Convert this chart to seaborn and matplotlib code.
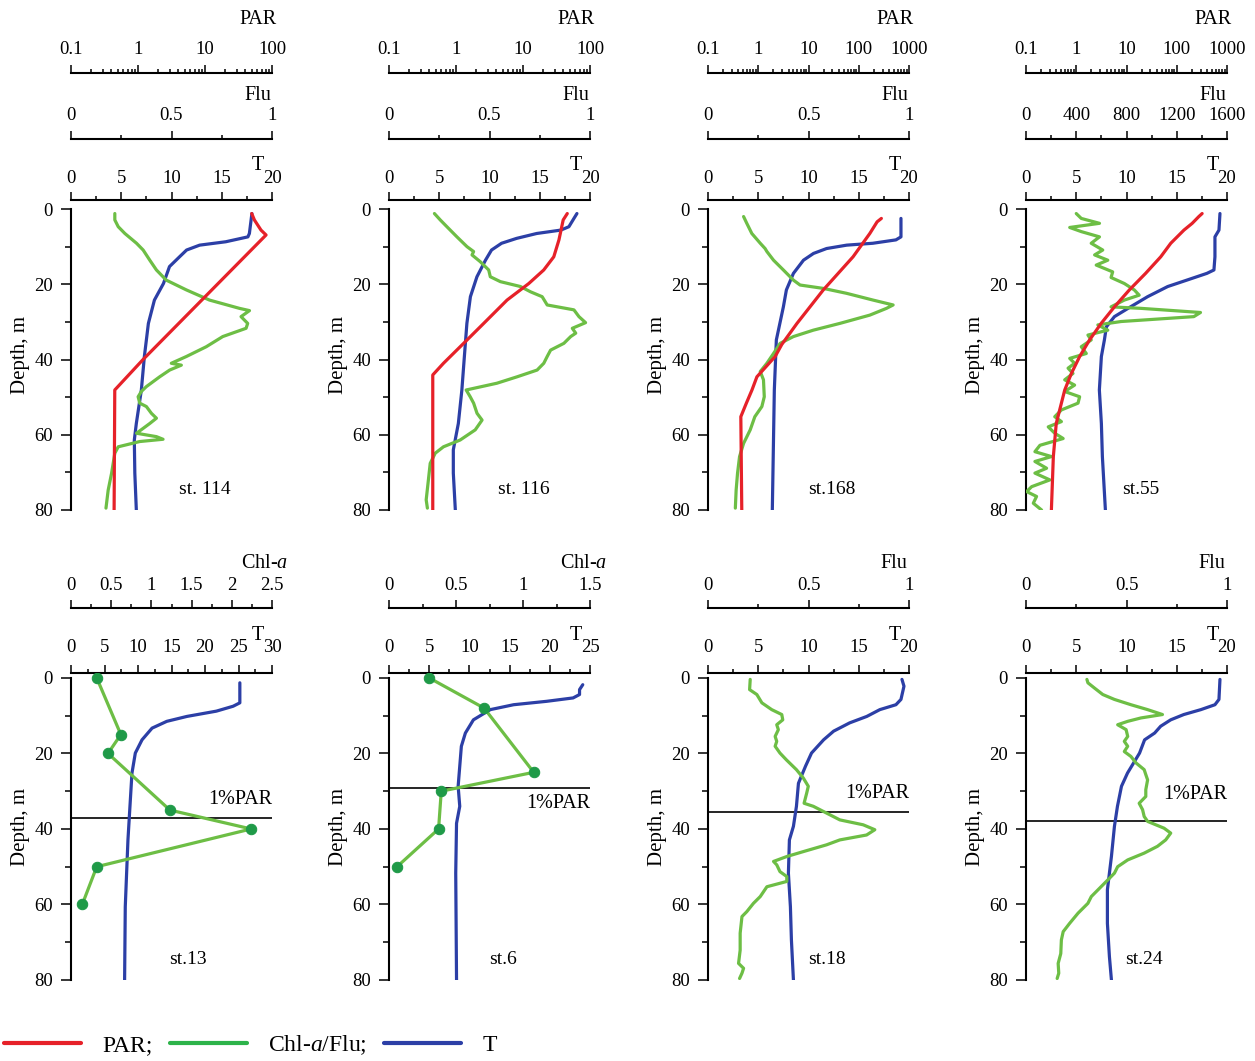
import numpy as np
import matplotlib
matplotlib.use("Agg")
import matplotlib.pyplot as plt
import seaborn as sns
import matplotlib.transforms as mtrans
from matplotlib.ticker import MultipleLocator, LogLocator, NullFormatter, FixedLocator, FixedFormatter
from matplotlib.lines import Line2D

# ---------------- data ----------------
# st. 114
st114_T_depth = [1.2, 6.5, 7.4, 8.7, 9.6, 10.9, 12.7, 15.3, 19.8, 24.2, 30.4, 39.2, 48.1, 57.0, 61.4, 70.2, 80.0]
st114_T = [18.0, 17.75, 17.6, 15.4, 12.8, 11.5, 10.8, 9.8, 9.2, 8.3, 7.7, 7.3, 7.0, 6.5, 6.3, 6.35, 6.5]
st114_PAR_depth = [1.2, 2.9, 5.6, 6.9, 40.0, 48.1, 80.0]
st114_PAR = [49.8, 54.6, 68.5, 81.5, 1.19, 0.45, 0.44]
st114_Flu_depth = [1.2, 2.9, 4.7, 6.5, 9.1, 10.9, 13.6, 16.2, 18.9, 21.5, 24.2, 26.4, 27.0, 28.6, 30.4, 31.7,
                   33.9, 36.6, 39.2, 41.0, 41.5, 42.8, 44.6, 47.2, 48.5, 49.9, 51.6, 52.5, 54.3, 55.6, 57.0,
                   58.3, 59.6, 60.5, 61.2, 61.8, 63.2, 64.9, 70.2, 74.7, 79.5]
st114_Flu = [0.218, 0.218, 0.235, 0.268, 0.326, 0.359, 0.392, 0.425, 0.474, 0.574, 0.689, 0.838, 0.888, 0.846,
             0.879, 0.871, 0.755, 0.673, 0.574, 0.499, 0.549, 0.491, 0.441, 0.375, 0.350, 0.334, 0.342, 0.375,
             0.400, 0.425, 0.392, 0.359, 0.326, 0.425, 0.458, 0.342, 0.235, 0.218, 0.202, 0.185, 0.174]

# st. 116
st116_T_depth = [1.2, 2.5, 4.7, 5.6, 6.5, 7.8, 9.1, 10.9, 13.6, 18.0, 23.3, 30.4, 39.2, 48.1, 57.0, 64.0, 70.2, 80.0]
st116_T = [18.7, 18.4, 17.9, 17.1, 14.7, 12.7, 11.2, 10.2, 9.6, 8.75, 8.1, 7.75, 7.5, 7.25, 6.9, 6.4, 6.4, 6.6]
st116_PAR_depth = [1.2, 2.9, 8.2, 12.7, 16.2, 19.8, 24.2, 30.4, 35.7, 41.0, 44.1, 80.0]
st116_PAR = [45.8, 39.8, 34.4, 28.8, 20.4, 12.2, 5.78, 2.59, 1.30, 0.65, 0.45, 0.45]
st116_Flu_depth = [1.2, 2.9, 4.7, 7.4, 10.0, 11.3, 12.2, 14.0, 16.2, 18.0, 19.3, 20.6, 22.0, 23.3, 25.5, 26.8,
                   28.6, 30.2, 31.7, 33.0, 33.9, 35.7, 37.5, 39.2, 41.0, 42.8, 44.6, 46.3, 48.1, 49.9, 51.6,
                   54.3, 56.1, 58.7, 61.4, 63.2, 64.9, 67.6, 72.0, 77.3, 79.5]
st116_Flu = [0.226, 0.255, 0.288, 0.338, 0.388, 0.421, 0.413, 0.454, 0.496, 0.504, 0.554, 0.654, 0.704, 0.762,
             0.787, 0.920, 0.945, 0.978, 0.912, 0.929, 0.904, 0.870, 0.804, 0.787, 0.770, 0.737, 0.637, 0.537,
             0.384, 0.404, 0.421, 0.438, 0.463, 0.429, 0.354, 0.271, 0.230, 0.205, 0.196, 0.185, 0.191]

# st. 168
st168_T_depth = [2.5, 7.4, 8.2, 9.1, 9.6, 10.5, 11.8, 13.6, 17.1, 21.5, 26.0, 34.8, 48.1, 80.0]
st168_T = [19.2, 19.2, 18.7, 16.4, 13.8, 11.8, 10.5, 9.5, 8.5, 7.8, 7.5, 6.8, 6.6, 6.4]
st168_PAR_depth = [2.5, 3.4, 6.5, 12.7, 21.5, 30.4, 36.0, 39.2, 44.6, 48.1, 51.6, 55.2, 80.0]
st168_PAR = [282, 232, 166, 77, 19.7, 5.9, 2.94, 2.17, 0.94, 0.75, 0.58, 0.45, 0.47]
st168_Flu_depth = [2.0, 3.8, 6.5, 9.1, 10.5, 11.3, 13.6, 16.2, 18.9, 20.2, 21.1, 22.4, 24.2, 25.5, 26.4, 28.2,
                   30.4, 32.2, 33.9, 35.7, 38.4, 41.0, 43.2, 45.4, 49.9, 52.5, 55.2, 58.7, 62.3, 65.8, 70.2,
                   74.7, 79.5]
st168_Flu = [0.177, 0.193, 0.218, 0.260, 0.284, 0.293, 0.326, 0.375, 0.425, 0.458, 0.574, 0.689, 0.821, 0.921,
             0.888, 0.805, 0.656, 0.524, 0.425, 0.359, 0.326, 0.293, 0.260, 0.276, 0.280, 0.268, 0.233, 0.210,
             0.177, 0.157, 0.147, 0.140, 0.136]

# st. 55
st55_T_depth = [1.2, 5.6, 7.4, 12.7, 16.2, 17.1, 18.9, 20.6, 23.3, 26.0, 28.6, 31.3, 34.8, 39.2, 48.1, 57.0, 65.8, 80.0]
st55_T = [19.3, 19.2, 18.8, 18.8, 18.7, 18.0, 16.0, 14.1, 12.1, 10.4, 8.8, 8.0, 7.8, 7.5, 7.3, 7.5, 7.6, 7.9]
st55_PAR_depth = [1.2, 2.0, 3.8, 5.6, 9.1, 12.7, 17.1, 21.5, 26.0, 30.4, 34.8, 39.2, 43.7, 48.1, 57.0, 65.8, 80.0]
st55_PAR = [320, 275, 203, 139, 76, 48, 24, 11.4, 5.75, 3.13, 1.84, 1.17, 0.80, 0.59, 0.40, 0.35, 0.32]
st55_Flu_depth = [1.2, 2.5, 3.8, 4.9, 6.0, 7.4, 9.1, 10.9, 12.2, 13.6, 14.9, 16.7, 18.2, 19.8, 21.5, 22.9, 24.2,
                  26.0, 26.4, 27.5, 28.6, 29.9, 30.8, 32.2, 33.5, 34.8, 36.6, 38.4, 39.7, 41.0, 42.3, 43.7,
                  45.4, 46.8, 48.5, 49.9, 51.6, 53.4, 55.2, 56.5, 57.9, 59.6, 61.0, 62.8, 64.5, 65.8, 67.1,
                  68.9, 70.2, 72.0, 73.8, 75.1, 76.4, 78.2, 80.0]
st55_Flu = [400, 440, 585, 348, 440, 585, 519, 611, 546, 651, 559, 690, 677, 783, 862, 901, 783,
            677, 915, 1389, 1336, 757, 572, 651, 493, 519, 440, 480, 348, 387, 335, 374,
            308, 387, 308, 427, 414, 282, 229, 282, 177, 229, 296, 111, 71, 203, 71,
            164, 71, 190, 45, 5, 84, 58, 124]

# st.13 (Chl-a bottle samples)
st13_T_depth = [1.3, 6.6, 7.5, 8.8, 10.2, 11.5, 13.3, 16.4, 19.9, 25.2, 34.0, 42.9, 51.7, 60.6, 80.0]
st13_T = [25.2, 25.2, 24.2, 21.7, 17.3, 14.3, 12.1, 10.6, 9.6, 9.1, 8.8, 8.5, 8.3, 8.1, 8.0]
st13_Chl_depth = [0, 15, 20, 35, 40, 50, 60]
st13_Chl = [0.32, 0.62, 0.46, 1.23, 2.24, 0.32, 0.14]
st13_PAR1 = 37.1

# st.6 (Chl-a bottle samples)
st6_T_depth = [1.8, 3.1, 4.4, 5.3, 6.2, 7.1, 8.4, 11.1, 14.6, 18.1, 23.4, 28.7, 34.0, 38.5, 51.7, 80.0]
st6_T = [24.1, 23.7, 23.7, 22.9, 19.6, 15.5, 12.6, 10.5, 9.5, 9.0, 8.8, 8.6, 8.8, 8.4, 8.3, 8.4]
st6_Chl_depth = [0, 8, 25, 30, 40, 50]
st6_Chl = [0.30, 0.71, 1.08, 0.39, 0.37, 0.06]
st6_PAR1 = 29.2

# st.18
st18_T_depth = [0.4, 2.2, 5.7, 7.1, 8.4, 10.2, 11.9, 14.1, 16.4, 19.9, 23.4, 27.9, 34.0, 39.3, 42.9, 51.7, 60.6, 69.4, 80.0]
st18_T = [19.3, 19.5, 19.2, 18.7, 17.1, 15.8, 14.1, 12.5, 11.5, 10.3, 9.7, 9.0, 8.8, 8.5, 8.1, 8.0, 8.2, 8.3, 8.5]
st18_Flu_depth = [0.4, 3.1, 4.4, 6.6, 8.4, 9.7, 11.1, 12.4, 13.7, 15.5, 16.8, 18.1, 19.9, 21.7, 24.3, 26.5,
                  28.7, 30.5, 33.2, 34.0, 35.8, 37.6, 38.9, 40.2, 41.6, 42.9, 44.2, 46.0, 47.3, 48.6, 49.5,
                  51.3, 52.6, 53.9, 55.3, 57.9, 59.7, 61.9, 63.2, 67.6, 72.1, 75.6, 76.9, 78.2, 79.6]
st18_Flu = [0.210, 0.207, 0.243, 0.268, 0.317, 0.367, 0.372, 0.342, 0.350, 0.334, 0.342, 0.334, 0.358, 0.390,
            0.440, 0.474, 0.499, 0.491, 0.478, 0.524, 0.590, 0.656, 0.772, 0.830, 0.789, 0.656, 0.590, 0.474,
            0.392, 0.326, 0.342, 0.358, 0.392, 0.392, 0.293, 0.260, 0.226, 0.193, 0.169, 0.160, 0.160, 0.152,
            0.177, 0.169, 0.157]
st18_PAR1 = 35.6

# st.24
st24_T_depth = [0.4, 5.7, 7.1, 8.4, 9.7, 11.1, 12.8, 14.6, 16.4, 19.9, 25.2, 28.7, 34.0, 39.3, 47.3, 56.1, 65.0, 73.8, 80.0]
st24_T = [19.3, 19.2, 18.8, 17.4, 15.7, 14.4, 13.4, 12.8, 11.8, 11.3, 10.1, 9.5, 9.1, 8.8, 8.5, 8.1, 8.1, 8.3, 8.5]
st24_Flu_depth = [0.4, 1.3, 2.7, 4.4, 5.7, 7.1, 8.4, 9.7, 10.6, 11.5, 12.4, 13.7, 15.5, 16.8, 18.1, 19.5, 20.8,
                  22.5, 24.3, 25.6, 27.0, 29.6, 31.4, 33.2, 34.9, 36.7, 38.0, 39.8, 41.1, 42.9, 44.6, 46.4,
                  48.2, 50.0, 51.7, 53.5, 55.7, 57.9, 59.7, 62.3, 65.0, 67.2, 69.4, 73.0, 75.6, 78.2, 79.6]
st24_Flu = [0.303, 0.308, 0.341, 0.382, 0.440, 0.522, 0.605, 0.679, 0.572, 0.506, 0.456, 0.498, 0.506, 0.489,
            0.506, 0.489, 0.522, 0.547, 0.588, 0.596, 0.605, 0.596, 0.596, 0.563, 0.580, 0.588, 0.605, 0.687,
            0.720, 0.695, 0.654, 0.588, 0.506, 0.456, 0.440, 0.407, 0.366, 0.325, 0.308, 0.259, 0.217, 0.185,
            0.176, 0.173, 0.160, 0.163, 0.155]
st24_PAR1 = 38.0

# tick labels
par_ticks_100 = [0.1, 1, 10, 100]
par_labels_100 = ["0.1", "1", "10", "100"]
par_ticks_1000 = [0.1, 1, 10, 100, 1000]
par_labels_1000 = ["0.1", "1", "10", "100", "1000"]
flu_ticks = [0, 0.5, 1]
flu_labels = ["0", "0.5", "1"]
flu55_ticks = [0, 400, 800, 1200, 1600]
flu55_labels = ["0", "400", "800", "1200", "1600"]
chl13_ticks = [0, 0.5, 1, 1.5, 2, 2.5]
chl13_labels = ["0", "0.5", "1", "1.5", "2", "2.5"]
chl6_ticks = [0, 0.5, 1, 1.5]
chl6_labels = ["0", "0.5", "1", "1.5"]
depth_ticks = [0, 20, 40, 60, 80]
stations = ["st. 114", "st. 116", "st.168", "st.55", "st.13", "st.6", "st.18", "st.24"]

# ---------------- style ----------------
sns.set_style("ticks")
plt.rcParams["font.family"] = ["Liberation Serif", "DejaVu Serif"]
plt.rcParams["mathtext.fontset"] = "custom"
plt.rcParams["mathtext.rm"] = "Liberation Serif"
plt.rcParams["mathtext.it"] = "Liberation Serif:italic"
for k in ["axes.edgecolor", "xtick.color", "ytick.color", "text.color", "axes.labelcolor"]:
    plt.rcParams[k] = "black"

RED = "#e62129"
GREEN = "#6dbe45"
BLUE = "#2c3fa6"
MGREEN = "#1f9a48"
LW = 2.3
TICK_FS = 13.5
LAB_FS = 14.5

W, H = 1255, 1061
fig = plt.figure(figsize=(W / 100, H / 100), dpi=100)

LEFTS = [71, 389, 708, 1026]
PW = 201


def style_x(a, pad, major=6, minor=3):
    a.xaxis.tick_top()
    a.tick_params(axis="x", which="both", direction="out", top=True, bottom=False,
                  labeltop=True, labelbottom=False, width=1.1, labelsize=TICK_FS)
    a.tick_params(axis="x", which="major", length=major, pad=pad)
    a.tick_params(axis="x", which="minor", length=minor)


def make_twin(ax, offset_px, pad):
    tw = ax.twiny()
    for s in ["left", "right", "bottom"]:
        tw.spines[s].set_visible(False)
    tw.spines["top"].set_position(("outward", offset_px * 0.72))
    tw.spines["top"].set_linewidth(1.5)
    tw.patch.set_visible(False)
    style_x(tw, pad)
    return tw


def figtext_px(x, y, s, **kw):
    fig.text(x / W, 1 - y / H, s, **kw)


def make_main(i, row, tmax, tdepth, tvals, station_name, st_x):
    left = LEFTS[i]
    if row == 0:
        top_px, bot_px, ytop = 200, 510, -2.4
    else:
        top_px, bot_px, ytop = 673, 980, -1.3
    ax = fig.add_axes([left / W, 1 - bot_px / H, PW / W, (bot_px - top_px) / H])
    sns.lineplot(x=tvals, y=tdepth, orient="y", estimator=None, ax=ax, color=BLUE, linewidth=LW)
    ax.set_ylim(80, ytop)
    ax.set_xlim(0, tmax)
    ax.spines["right"].set_visible(False)
    ax.spines["bottom"].set_visible(False)
    ax.spines["left"].set_bounds(0, 80)
    ax.spines["left"].set_linewidth(1.5)
    ax.spines["top"].set_linewidth(1.5)
    ax.xaxis.set_major_locator(MultipleLocator(5))
    ax.xaxis.set_minor_locator(MultipleLocator(2.5))
    ax.yaxis.set_major_locator(FixedLocator(depth_ticks))
    ax.yaxis.set_minor_locator(MultipleLocator(10))
    ax.tick_params(axis="y", which="both", direction="out", left=True, right=False, width=1.1, labelsize=TICK_FS)
    ax.tick_params(axis="y", which="major", length=7, pad=6)
    ax.tick_params(axis="y", which="minor", length=4)
    ax.set_xlabel("")
    ax.set_ylabel("Depth, m", fontsize=LAB_FS + 0.5, labelpad=3)
    tr = mtrans.blended_transform_factory(ax.transAxes, ax.transData)
    ax.text(st_x, 74.5, station_name, transform=tr, ha="center", va="center", fontsize=14)
    figtext_px(left + 187, top_px - 34 if row == 0 else top_px - 38, "T", ha="center", va="center", fontsize=LAB_FS)
    return ax


def finish_main(ax, row):
    # twiny() moves the host's ticks to the bottom, so put them back on top
    style_x(ax, pad=3 if row == 0 else 6)


# ---------------- top row ----------------
top_cfg = [
    dict(T=(st114_T_depth, st114_T), P=(st114_PAR_depth, st114_PAR), F=(st114_Flu_depth, st114_Flu),
         pmax=100, pt=par_ticks_100, pl=par_labels_100, fmax=1, ft=flu_ticks, fl=flu_labels, fminor=0.25, stx=0.664),
    dict(T=(st116_T_depth, st116_T), P=(st116_PAR_depth, st116_PAR), F=(st116_Flu_depth, st116_Flu),
         pmax=100, pt=par_ticks_100, pl=par_labels_100, fmax=1, ft=flu_ticks, fl=flu_labels, fminor=0.25, stx=0.67),
    dict(T=(st168_T_depth, st168_T), P=(st168_PAR_depth, st168_PAR), F=(st168_Flu_depth, st168_Flu),
         pmax=1000, pt=par_ticks_1000, pl=par_labels_1000, fmax=1, ft=flu_ticks, fl=flu_labels, fminor=0.25, stx=0.615),
    dict(T=(st55_T_depth, st55_T), P=(st55_PAR_depth, st55_PAR), F=(st55_Flu_depth, st55_Flu),
         pmax=1000, pt=par_ticks_1000, pl=par_labels_1000, fmax=1600, ft=flu55_ticks, fl=flu55_labels, fminor=200, stx=0.572),
]

for i, c in enumerate(top_cfg):
    ax = make_main(i, 0, 20, c["T"][0], c["T"][1], stations[i], c["stx"])
    fx = make_twin(ax, 61, pad=5)
    sns.lineplot(x=c["F"][1], y=c["F"][0], orient="y", estimator=None, ax=fx, color=GREEN, linewidth=LW)
    fx.set_xlim(0, c["fmax"])
    fx.xaxis.set_major_locator(FixedLocator(c["ft"]))
    fx.xaxis.set_major_formatter(FixedFormatter(c["fl"]))
    fx.xaxis.set_minor_locator(MultipleLocator(c["fminor"]))
    fx.set_xlabel("")
    fx.set_ylabel("")
    px = make_twin(ax, 127, pad=5)
    sns.lineplot(x=c["P"][1], y=c["P"][0], orient="y", estimator=None, ax=px, color=RED, linewidth=LW)
    px.set_xscale("log")
    px.set_xlim(0.1, c["pmax"])
    px.xaxis.set_major_locator(FixedLocator(c["pt"]))
    px.xaxis.set_major_formatter(FixedFormatter(c["pl"]))
    px.xaxis.set_minor_locator(LogLocator(base=10, subs=np.arange(2, 10)))
    px.xaxis.set_minor_formatter(NullFormatter())
    px.set_xlabel("")
    px.set_ylabel("")
    ax.set_ylim(80, -2.4)
    finish_main(ax, 0)
    left = LEFTS[i]
    figtext_px(left + 206, 19, "PAR", ha="right", va="center", fontsize=LAB_FS)
    figtext_px(left + 200, 95, "Flu", ha="right", va="center", fontsize=LAB_FS)

# ---------------- bottom row ----------------
bot_cfg = [
    dict(T=(st13_T_depth, st13_T), tmax=30, G=(st13_Chl_depth, st13_Chl), gmax=2.5, gt=chl13_ticks, gl=chl13_labels,
         gminor=0.25, name="Chl-$\\mathit{a}$", lab_dx=217, marker=True, p1=st13_PAR1, p1y=32.3, stx=0.58),
    dict(T=(st6_T_depth, st6_T), tmax=25, G=(st6_Chl_depth, st6_Chl), gmax=1.5, gt=chl6_ticks, gl=chl6_labels,
         gminor=0.25, name="Chl-$\\mathit{a}$", lab_dx=218, marker=True, p1=st6_PAR1, p1y=33.2, stx=0.569),
    dict(T=(st18_T_depth, st18_T), tmax=20, G=(st18_Flu_depth, st18_Flu), gmax=1, gt=flu_ticks, gl=flu_labels,
         gminor=0.25, name="Flu", lab_dx=199, marker=False, p1=st18_PAR1, p1y=30.7, stx=0.59),
    dict(T=(st24_T_depth, st24_T), tmax=20, G=(st24_Flu_depth, st24_Flu), gmax=1, gt=flu_ticks, gl=flu_labels,
         gminor=0.25, name="Flu", lab_dx=199, marker=False, p1=st24_PAR1, p1y=30.9, stx=0.585),
]

for j, c in enumerate(bot_cfg):
    ax = make_main(j, 1, c["tmax"], c["T"][0], c["T"][1], stations[4 + j], c["stx"])
    ax.axhline(c["p1"], color="black", linewidth=1.2, zorder=1)
    tr = mtrans.blended_transform_factory(ax.transAxes, ax.transData)
    ax.text(1.0, c["p1y"], "1%PAR", transform=tr, ha="right", va="center", fontsize=LAB_FS)
    gx = make_twin(ax, 65, pad=4)
    if c["marker"]:
        sns.lineplot(x=c["G"][1], y=c["G"][0], orient="y", estimator=None, ax=gx, color=GREEN, linewidth=LW,
                     marker="o", markersize=7.5, markerfacecolor=MGREEN, markeredgecolor=MGREEN)
    else:
        sns.lineplot(x=c["G"][1], y=c["G"][0], orient="y", estimator=None, ax=gx, color=GREEN, linewidth=LW)
    gx.set_xlim(0, c["gmax"])
    gx.xaxis.set_major_locator(FixedLocator(c["gt"]))
    gx.xaxis.set_major_formatter(FixedFormatter(c["gl"]))
    gx.xaxis.set_minor_locator(MultipleLocator(c["gminor"]))
    gx.set_xlabel("")
    gx.set_ylabel("")
    ax.set_ylim(80, -1.3)
    finish_main(ax, 1)
    figtext_px(LEFTS[j] + c["lab_dx"], 563, c["name"], ha="right", va="center", fontsize=LAB_FS)

# ---------------- legend ----------------
handles = [Line2D([], [], color=RED, lw=3), Line2D([], [], color="#2db34a", lw=3), Line2D([], [], color=BLUE, lw=3)]
labels = ["PAR;", "Chl-$\\mathit{a}$/Flu;", "T"]
fig.legend(handles, labels, loc="center left", bbox_to_anchor=(4 / W, 1 - 1045 / H), ncol=3, frameon=False,
           fontsize=17, handlelength=3.25, handletextpad=0.9, columnspacing=0.75, borderpad=0, borderaxespad=0)

fig.savefig("out.png", dpi=100, facecolor="white")
